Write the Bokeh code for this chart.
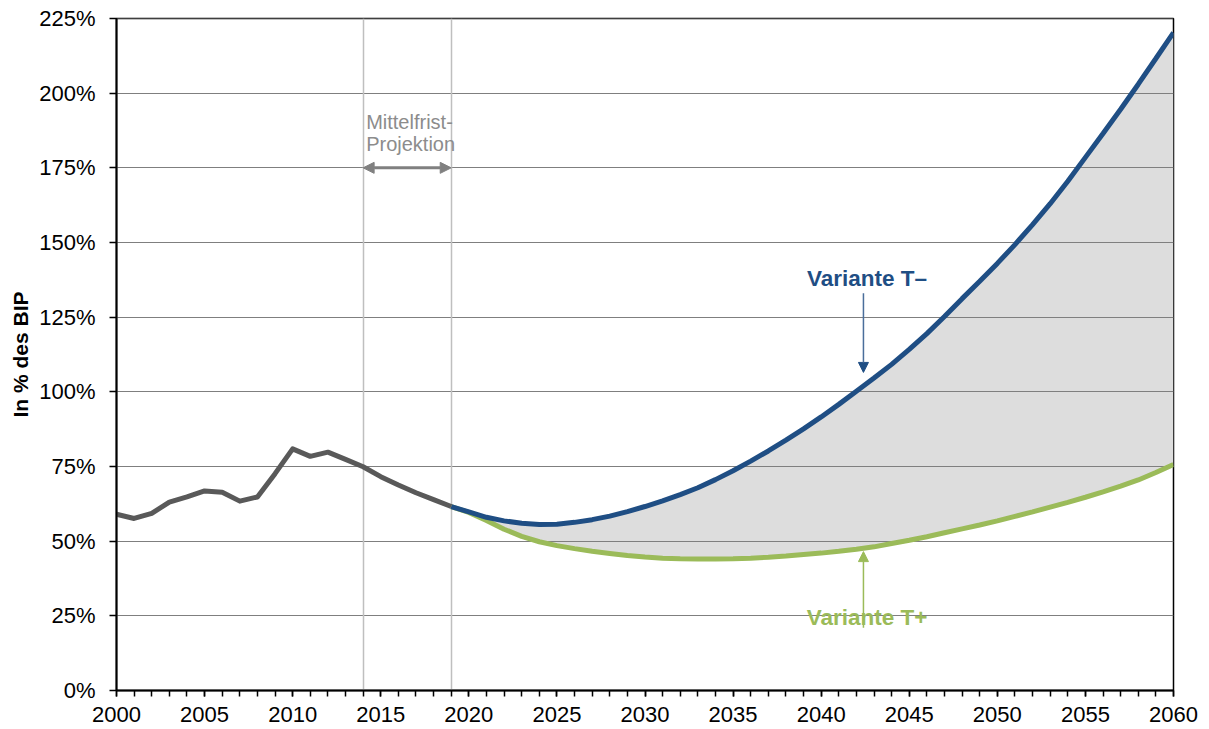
from bokeh.plotting import figure
from bokeh.embed import file_html
from bokeh.resources import INLINE
from bokeh.models import SingleIntervalTicker, FixedTicker, Arrow, NormalHead
from bokeh.core.properties import value

# ---- data ----
hist_years = list(range(2000, 2020))
hist_debt = [59.0, 57.6, 59.3, 63.1, 64.8, 66.8, 66.4, 63.4, 64.8, 72.6,
             80.9, 78.4, 79.8, 77.4, 74.9, 71.6, 68.8, 66.2, 63.9, 61.6]

proj_years = list(range(2019, 2061))
t_minus = [61.6, 59.8, 58.0, 56.8, 56.0, 55.6, 55.7, 56.3, 57.2, 58.4,
           59.9, 61.6, 63.5, 65.6, 67.9, 70.6, 73.6, 76.8, 80.2, 83.8,
           87.6, 91.6, 95.8, 100.2, 104.6, 109.2, 114.2, 119.5, 125.2, 131.2,
           137.0, 143.0, 149.3, 156.0, 163.0, 170.5, 178.5, 186.5, 194.6, 203.0,
           211.6, 220.3]
t_plus = [61.6, 59.6, 56.9, 54.0, 51.6, 49.8, 48.5, 47.5, 46.6, 45.9,
          45.2, 44.7, 44.3, 44.1, 44.0, 44.0, 44.1, 44.3, 44.6, 45.0,
          45.5, 46.0, 46.6, 47.3, 48.1, 49.2, 50.3, 51.5, 52.8, 54.1,
          55.4, 56.8, 58.3, 59.8, 61.4, 63.0, 64.7, 66.5, 68.4, 70.5,
          73.0, 75.7]

y_ticks = [0, 25, 50, 75, 100, 125, 150, 175, 200, 225]
y_tick_labels = ["0%", "25%", "50%", "75%", "100%", "125%", "150%", "175%", "200%", "225%"]
proj_bounds = [2014, 2019]
proj_label = ["Mittelfrist-", "Projektion"]
label_minus = "Variante T\u2013"
label_plus = "Variante T+"

FONT = "Liberation Sans"
BLUE = "#1F4E84"
GREEN = "#9BBB59"
HIST = "#595959"

p = figure(width=1205, height=725, x_range=(2000, 2060), y_range=(0, 225),
           output_backend="svg", toolbar_location=None,
           min_border_left=116, min_border_right=32, min_border_top=18, min_border_bottom=35)
p.background_fill_color = "white"
p.border_fill_color = "white"
p.outline_line_color = "black"
p.outline_line_width = 1.5
p.xgrid.visible = False
p.ygrid.visible = False

# fill between the two variants
p.varea(x=proj_years, y1=t_plus, y2=t_minus, fill_color="#DDDDDD")

# horizontal gridlines over the fill
p.hspan(y=y_ticks[1:], line_color="#7F7F7F", line_width=1.2)

# projection boundaries
p.vspan(x=proj_bounds, line_color="#BFBFBF", line_width=1.5)

# lines
p.line(proj_years, t_plus, line_color=GREEN, line_width=5)
p.line(proj_years, t_minus, line_color=BLUE, line_width=5)
p.line(hist_years, hist_debt, line_color=HIST, line_width=5, line_join="round")

# Mittelfrist annotation
p.text(x=[proj_bounds[0]] * 2, y=[190.5, 183.0], text=proj_label, x_offset=3,
       text_font=value(FONT), text_font_size="20px", text_color="#8C8C8C",
       text_align="left", text_baseline="middle")
p.add_layout(Arrow(x_start=proj_bounds[0], y_start=175, x_end=proj_bounds[1], y_end=175,
                   line_color="#808080", line_width=3,
                   start=NormalHead(size=11, fill_color="#808080", line_color="#808080"),
                   end=NormalHead(size=11, fill_color="#808080", line_color="#808080")))

# variant labels and arrows
p.text(x=[2042.6], y=[138], text=[label_minus], text_font=value(FONT), text_font_size="22.5px",
       text_font_style="bold", text_color=BLUE, text_align="center", text_baseline="middle")
p.add_layout(Arrow(x_start=2042.4, y_start=133, x_end=2042.4, y_end=106.5,
                   line_color="#4A6E9B", line_width=1.5,
                   end=NormalHead(size=10, fill_color=BLUE, line_color=BLUE)))
p.text(x=[2042.6], y=[24.6], text=[label_plus], text_font=value(FONT), text_font_size="22.5px",
       text_font_style="bold", text_color=GREEN, text_align="center", text_baseline="middle")
p.add_layout(Arrow(x_start=2042.4, y_start=21, x_end=2042.4, y_end=46.5,
                   line_color=GREEN, line_width=1.5,
                   end=NormalHead(size=10, fill_color=GREEN, line_color=GREEN)))

# axes
p.xaxis.ticker = SingleIntervalTicker(interval=5, num_minor_ticks=5)
p.xaxis.major_tick_in = 0
p.xaxis.major_tick_out = 6
p.xaxis.minor_tick_in = 0
p.xaxis.minor_tick_out = 6
p.xaxis.major_label_standoff = 10
p.yaxis.ticker = FixedTicker(ticks=y_ticks)
p.yaxis.major_label_overrides = {t: l for t, l in zip(y_ticks, y_tick_labels)}
p.yaxis.major_tick_in = 0
p.yaxis.major_tick_out = 7
p.yaxis.minor_tick_line_color = None
p.yaxis.major_label_standoff = 14
p.yaxis.axis_label = "In % des BIP"
p.yaxis.axis_label_standoff = 4
p.yaxis.axis_label_text_font = FONT
p.yaxis.axis_label_text_font_size = "21px"
p.yaxis.axis_label_text_font_style = "bold"
p.yaxis.axis_label_text_color = "black"
for ax in (p.xaxis, p.yaxis):
    ax.axis_line_color = "black"
    ax.axis_line_width = 2
    ax.major_tick_line_color = "black"
    ax.major_tick_line_width = 1.5
    ax.major_label_text_font = FONT
    ax.major_label_text_font_size = "22px"
    ax.major_label_text_color = "black"
p.xaxis.minor_tick_line_color = "black"
p.xaxis.minor_tick_line_width = 1.5

open("out.html", "w").write(file_html(p, INLINE))
